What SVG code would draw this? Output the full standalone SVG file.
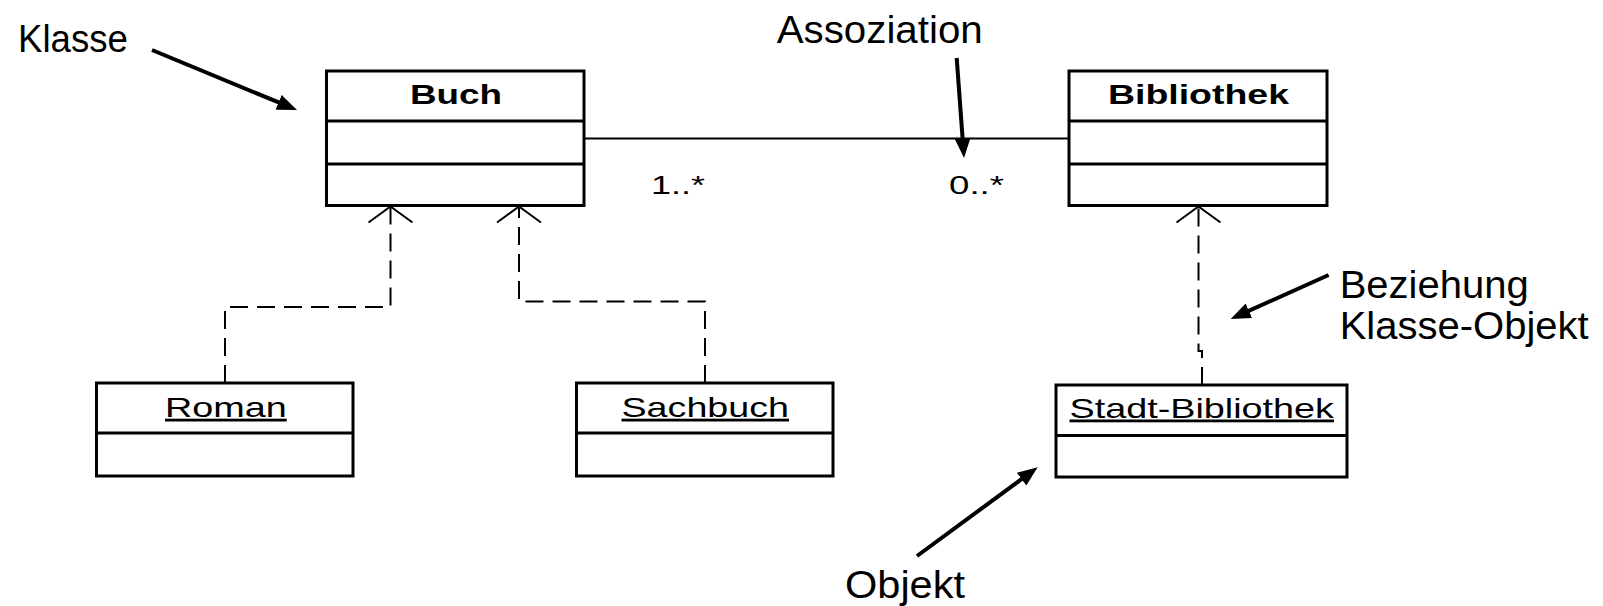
<svg xmlns="http://www.w3.org/2000/svg" width="1603" height="606" viewBox="0 0 1603 606">
  <style>
    .box { fill: #fff; stroke: #000; stroke-width: 3; }
    .div { stroke: #000; stroke-width: 3; }
    .cls { font-family: "Liberation Sans", Arial, sans-serif; font-size: 27px; font-weight: bold; fill: #000; }
    .obj { font-family: "Liberation Sans", Arial, sans-serif; font-size: 28px; fill: #000; text-decoration: underline; }
    .mult { font-family: "Liberation Sans", Arial, sans-serif; font-size: 26px; fill: #000; }
    .note { font-family: "Liberation Sans", Arial, sans-serif; font-size: 38px; fill: #000; }
    .assoc { stroke: #000; stroke-width: 2; fill: none; }
    .dep { stroke: #000; stroke-width: 2; fill: none; stroke-dasharray: 18 9; }
    .open { stroke: #000; stroke-width: 2; fill: none; }
    .pointer { stroke: #000; stroke-width: 4; fill: none; marker-end: url(#head); }
  </style>
  <defs>
    <marker id="head" viewBox="0 0 20 16" refX="10" refY="8" markerWidth="20" markerHeight="16" markerUnits="userSpaceOnUse" orient="auto">
      <path d="M0,0 L20,8 L0,16 Z" fill="#000"/>
    </marker>
  </defs>

  <rect width="1603" height="606" fill="#fff"/>

  <!-- connectors -->
  <g id="connectors">
    <!-- association Buch - Bibliothek -->
    <line class="assoc" x1="584" y1="138.5" x2="1069" y2="138.5"/>
    <text class="mult" x="651" y="194" textLength="54" lengthAdjust="spacingAndGlyphs">1..*</text>
    <text class="mult" x="949" y="194" textLength="55" lengthAdjust="spacingAndGlyphs">0..*</text>

    <!-- instance-of dependencies -->
    <path class="dep" d="M225,383 V307 H390.5 V208"/>
    <path class="open" d="M368.5,222.5 L390.5,206.5 L412.5,222.5"/>
    <path class="dep" d="M705,383 V301.5 H519 V208"/>
    <path class="open" d="M497,222.5 L519,206.5 L541,222.5"/>
    <path class="dep" d="M1202,385 V351 H1198.5 V208"/>
    <path class="open" d="M1176.5,222.5 L1198.5,206.5 L1220.5,222.5"/>
  </g>

  <!-- classes -->
  <g id="buch">
    <rect class="box" x="326.5" y="71" width="257.5" height="134.5"/>
    <line class="div" x1="326.5" y1="121" x2="584" y2="121"/>
    <line class="div" x1="326.5" y1="164" x2="584" y2="164"/>
    <text class="cls" x="410" y="104.3" textLength="92" lengthAdjust="spacingAndGlyphs">Buch</text>
  </g>
  <g id="bibliothek">
    <rect class="box" x="1069" y="71" width="258" height="134.5"/>
    <line class="div" x1="1069" y1="121" x2="1327" y2="121"/>
    <line class="div" x1="1069" y1="164" x2="1327" y2="164"/>
    <text class="cls" x="1108" y="104.3" textLength="181" lengthAdjust="spacingAndGlyphs">Bibliothek</text>
  </g>

  <!-- objects -->
  <g id="roman">
    <rect class="box" x="96.5" y="383" width="256.5" height="93"/>
    <line class="div" x1="96.5" y1="433" x2="353" y2="433"/>
    <text class="obj" x="165" y="416.7" textLength="121.7" lengthAdjust="spacingAndGlyphs">Roman</text>
  </g>
  <g id="sachbuch">
    <rect class="box" x="576.5" y="383" width="256.5" height="93"/>
    <line class="div" x1="576.5" y1="433" x2="833" y2="433"/>
    <text class="obj" x="621.5" y="416.7" textLength="167.5" lengthAdjust="spacingAndGlyphs">Sachbuch</text>
  </g>
  <g id="stadt-bibliothek">
    <rect class="box" x="1056" y="385" width="291" height="92"/>
    <line class="div" x1="1056" y1="435.5" x2="1347" y2="435.5"/>
    <text class="obj" x="1069.5" y="417.5" textLength="264.5" lengthAdjust="spacingAndGlyphs">Stadt-Bibliothek</text>
  </g>

  <!-- annotations -->
  <g id="label-klasse">
    <text class="note" x="18" y="51.7" textLength="110" lengthAdjust="spacingAndGlyphs">Klasse</text>
    <line class="pointer" x1="152" y1="50" x2="287.8" y2="106.2"/>
  </g>
  <g id="label-assoziation">
    <text class="note" x="776.7" y="43.3" textLength="206" lengthAdjust="spacingAndGlyphs">Assoziation</text>
    <line class="pointer" x1="956.7" y1="58" x2="963.3" y2="148"/>
  </g>
  <g id="label-beziehung">
    <text class="note" x="1339.7" y="298" textLength="189" lengthAdjust="spacingAndGlyphs">Beziehung</text>
    <text class="note" x="1339.7" y="339" textLength="249" lengthAdjust="spacingAndGlyphs">Klasse-Objekt</text>
    <line class="pointer" x1="1328.6" y1="275" x2="1239.8" y2="314.9"/>
  </g>
  <g id="label-objekt">
    <text class="note" x="845" y="598" textLength="120" lengthAdjust="spacingAndGlyphs">Objekt</text>
    <line class="pointer" x1="917" y1="556" x2="1029.6" y2="473.2"/>
  </g>
</svg>
